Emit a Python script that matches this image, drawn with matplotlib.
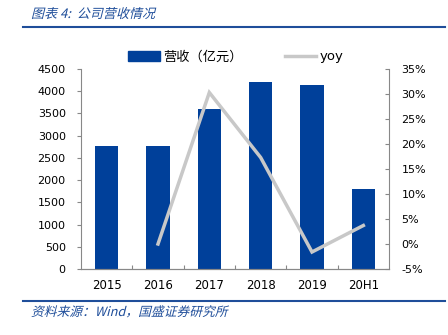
import matplotlib.pyplot as plt
from matplotlib.lines import Line2D
from matplotlib.patches import Patch, PathPatch
from matplotlib.textpath import TextPath
from matplotlib.font_manager import FontProperties
from matplotlib.transforms import Affine2D
from matplotlib.ticker import FuncFormatter, FixedLocator
import numpy as np

plt.rcParams['font.family'] = ['DejaVu Sans', 'Noto Sans CJK SC']

# revenue (100m yuan) and yoy growth (%)
years = ['2015', '2016', '2017', '2018', '2019', '20H1']
revenue = [2770, 2770, 3590, 4200, 4130, 1810]
yoy = [None, 0.0, 30.3, 17.3, -1.6, 3.7]

blue = '#00409A'
grey = '#C8C8C8'
title_blue = '#1F4E9A'

W, H, DPI = 448, 335, 100
fig = plt.figure(figsize=(W / DPI, H / DPI), dpi=DPI)
ax = fig.add_axes([81 / W, 66 / H, 308 / W, 200 / H])
ax2 = ax.twinx()

x = np.arange(len(years))
ax.bar(x, revenue, width=0.46, color=blue, zorder=2)
ax.set_xlim(-0.5, len(years) - 0.5)
ax.set_ylim(0, 4500)
ax.set_yticks(np.arange(0, 4501, 500))

yx = [i for i, v in zip(x, yoy) if v is not None]
yv = [v for v in yoy if v is not None]
ax2.plot(yx, yv, color=grey, lw=2.5, solid_joinstyle='miter')
ax2.set_ylim(-5, 35)
ax2.set_yticks(np.arange(-5, 36, 5))
ax2.yaxis.set_major_formatter(FuncFormatter(lambda v, p: f'{v:.0f}%'))

for a in (ax, ax2):
    a.spines['top'].set_visible(False)
    for s in a.spines.values():
        s.set_color('#888888')
        s.set_linewidth(0.8)
    a.tick_params(axis='y', labelsize=8, colors='#888888', labelcolor='black', length=3, width=0.8)
ax.spines['right'].set_visible(False)
ax2.spines['left'].set_visible(False)
ax2.tick_params(axis='y', direction='in', pad=9)
ax.tick_params(axis='y', direction='out', pad=8)

# category labels centred, tick marks on category borders
ax.set_xticks(x)
ax.set_xticklabels(years)
ax.tick_params(axis='x', length=0, labelsize=8.5, pad=7)
ax.xaxis.set_minor_locator(FixedLocator(x[:-1] + 0.5))
ax.tick_params(axis='x', which='minor', direction='in', length=3, color='#888888', width=0.8)

handles = [Patch(color=blue), Line2D([], [], color=grey, lw=2.5)]
fig.legend(handles, ['营收（亿元）', 'yoy'], loc='center', bbox_to_anchor=(0.526, 0.83),
           ncol=2, frameon=False, handlelength=2.4, handleheight=0.8,
           columnspacing=3.2, handletextpad=0.25,
           prop={'family': ['DejaVu Sans', 'Noto Sans CJK SC'], 'size': 9.5})


def slanted_text(s, x_px, y_px, size):
    # draw text as a sheared path to get an oblique look
    fp = FontProperties(family='Noto Sans CJK SC', weight='light')
    tp = TextPath((0, 0), s, size=size, prop=fp)
    tr = Affine2D().skew_deg(14, 0).scale(DPI / 72).translate(x_px, H - y_px)
    fig.add_artist(PathPatch(tp, transform=tr, color=title_blue, lw=0))


# header and footer
slanted_text('图表 4:  公司营收情况', 31, 18, 9.4)
fig.add_artist(Line2D([23 / W, 445 / W], [1 - 27 / H] * 2, color=title_blue, lw=1.5))
fig.add_artist(Line2D([23 / W, 445 / W], [1 - 301 / H] * 2, color=title_blue, lw=1.5))
slanted_text('资料来源：Wind，国盛证券研究所', 31, 316, 9.2)

fig.savefig('out.png', dpi=DPI)
